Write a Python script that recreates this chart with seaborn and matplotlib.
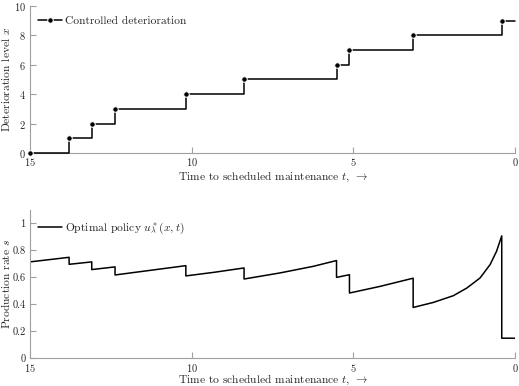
import numpy as np
import pandas as pd
import seaborn as sns
from matplotlib import pyplot as plt

# jump times (time to maintenance) and deterioration levels
jump_t = [15, 13.79, 13.09, 12.37, 10.18, 8.38, 5.52, 5.12, 3.15, 0.41]
levels = [0, 1, 2, 3, 4, 5, 6, 7, 8, 9]

rate_t = [15, 13.79, 13.79, 13.09, 13.09, 12.37, 12.37, 10.18, 10.18, 9.3, 8.38, 8.38,
          7.27, 6.24, 5.52, 5.52, 5.12, 5.12, 4.18, 3.15, 3.15, 2.53, 1.91, 1.49,
          1.08, 0.77, 0.57, 0.41, 0.41, 0]
rate = [0.715, 0.749, 0.697, 0.715, 0.658, 0.678, 0.618, 0.687, 0.611, 0.638, 0.670, 0.588,
        0.633, 0.682, 0.725, 0.600, 0.620, 0.484, 0.533, 0.594, 0.377, 0.414, 0.464, 0.521,
        0.596, 0.695, 0.794, 0.908, 0.149, 0.149]

sns.set_theme(style="ticks")
plt.rcParams["font.family"] = "serif"
plt.rcParams["font.serif"] = ["cmr10"]
plt.rcParams["mathtext.fontset"] = "cm"
plt.rcParams["axes.formatter.use_mathtext"] = True

gray = "#a0a0a0"
fig = plt.figure(figsize=(5.19, 3.86), dpi=100)
ax1 = fig.add_axes([0.0578, 0.6036, 0.9345, 0.3814])
ax2 = fig.add_axes([0.0578, 0.0718, 0.9345, 0.3842])

# top: deterioration level as a step function
top = pd.DataFrame({"t": jump_t + [0], "x": levels + [levels[-1]]})
sns.lineplot(data=top, x="t", y="x", ax=ax1, sort=False, estimator=None,
             drawstyle="steps-post", color="black", lw=1.1,
             marker="o", markersize=4, markevery=list(range(len(jump_t))),
             clip_on=False, zorder=3, label="Controlled deterioration")
ax1.set_xlim(15, 0)
ax1.set_ylim(0, 10)
ax1.set_yticks([0, 2, 4, 6, 8, 10])
ax1.set_ylabel(r"Deterioration level $x$", fontsize=8.3)

# bottom: production rate
bot = pd.DataFrame({"t": rate_t, "s": rate})
sns.lineplot(data=bot, x="t", y="s", ax=ax2, sort=False, estimator=None,
             color="black", lw=1.1, label=r"Optimal policy $u^*_\lambda(x,t)$")
ax2.set_xlim(15, 0)
ax2.set_ylim(0, 1.1)
ax2.set_yticks([0, 0.2, 0.4, 0.6, 0.8, 1])
ax2.set_yticklabels(["0", "0.2", "0.4", "0.6", "0.8", "1"])
ax2.set_ylabel(r"Production rate $s$", fontsize=8.3)

for ax, xl_y in ((ax1, -0.112), (ax2, -0.096)):
    ax.set_xticks([15, 10, 5, 0])
    ax.set_xlabel(r"Time to scheduled maintenance $t$, $\rightarrow$", fontsize=8.3)
    ax.xaxis.set_label_coords(0.5, xl_y)
    ax.yaxis.set_label_coords(-0.037, 0.5)
    sns.despine(ax=ax)
    for s in ("left", "bottom"):
        ax.spines[s].set_color(gray)
        ax.spines[s].set_linewidth(0.8)
    ax.tick_params(direction="in", length=4, width=0.8, color=gray, labelsize=7.5)
    ax.tick_params(axis="x", pad=2.5)
    ax.tick_params(axis="y", pad=3)
    ax.legend(loc="upper left", frameon=False, fontsize=8.3, handlelength=2.0,
              handletextpad=0.3, borderaxespad=0.0, bbox_to_anchor=(0.008, 0.96))

plt.savefig("out.png", dpi=100)
